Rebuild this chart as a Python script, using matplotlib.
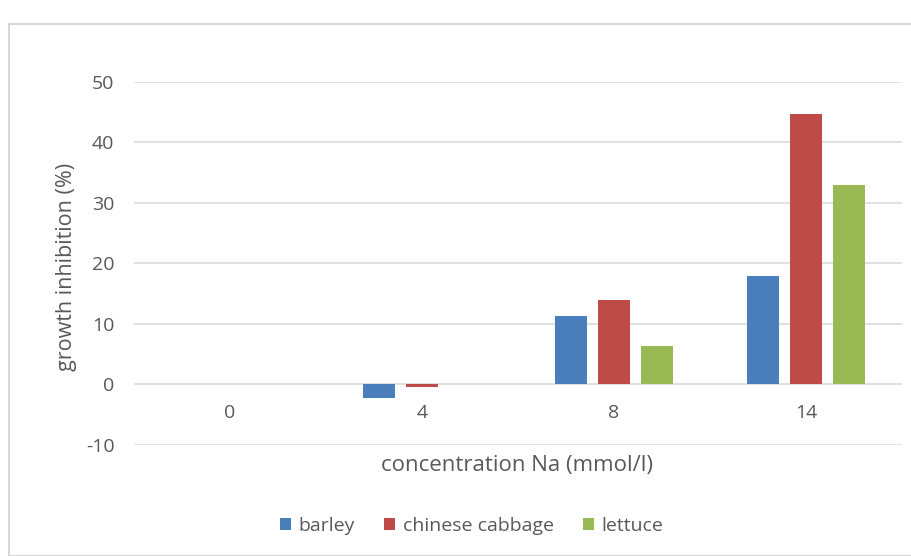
import numpy as np
import matplotlib.pyplot as plt
from matplotlib.patches import Rectangle

# data
concentrations = ['0', '4', '8', '14']
barley = [0, -2.2, 11.3, 17.9]
chinese_cabbage = [0, -0.5, 13.9, 44.7]
lettuce = [0, 0, 6.3, 32.9]

series = [('barley', barley, '#4A7EBB'),
          ('chinese cabbage', chinese_cabbage, '#BE4B48'),
          ('lettuce', lettuce, '#98B954')]

plt.rcParams['font.family'] = ['Open Sans', 'DejaVu Sans']
plt.rcParams['axes.unicode_minus'] = False
text_color = '#595959'

fig = plt.figure(figsize=(9.11, 5.56), dpi=100)
ax = fig.add_axes([0.147, 0.2, 0.843, 0.6525])

# outer chart border
fig.patches.append(Rectangle((9 / 911, 0), 1.2, 1 - 24 / 556, transform=fig.transFigure,
                             fill=False, edgecolor='#d0d0d0', linewidth=1.2, zorder=0))

x = np.arange(len(concentrations))
width = 0.17
offset = 0.224
for i, (name, vals, col) in enumerate(series):
    ax.bar(x + (i - 1) * offset, vals, width, color=col, label=name,
           linewidth=0, zorder=3)

ax.set_xlim(-0.5, len(concentrations) - 0.5)
ax.set_ylim(-10, 50)
ax.set_yticks(range(-10, 51, 10))
ax.yaxis.grid(True, color='#d9d9d9', linewidth=1.1, zorder=0)
ax.set_axisbelow(True)

for s in ax.spines.values():
    s.set_visible(False)
ax.spines['bottom'].set_position(('data', 0))

ax.set_xticks(x)
ax.set_xticklabels(concentrations)
ax.tick_params(axis='x', length=0, pad=14, labelsize=14, labelcolor=text_color)
ax.tick_params(axis='y', length=0, pad=14, labelsize=14, labelcolor=text_color)

fig.text(0.567, 1 - 466 / 556, 'concentration Na (mmol/l)', ha='center', va='center',
         fontsize=16, color=text_color)
fig.text(0.073, 1 - 267 / 556, 'growth inhibition (%)', ha='center', va='center',
         rotation=90, fontsize=15.5, color=text_color)

leg = fig.legend(loc='center', bbox_to_anchor=(0.518, 1 - 526 / 556), ncol=3, frameon=False,
                 fontsize=14, handlelength=0.55, handleheight=0.55, handletextpad=0.4,
                 columnspacing=1.5)
for t in leg.get_texts():
    t.set_color(text_color)

fig.savefig('out.png', dpi=100)
